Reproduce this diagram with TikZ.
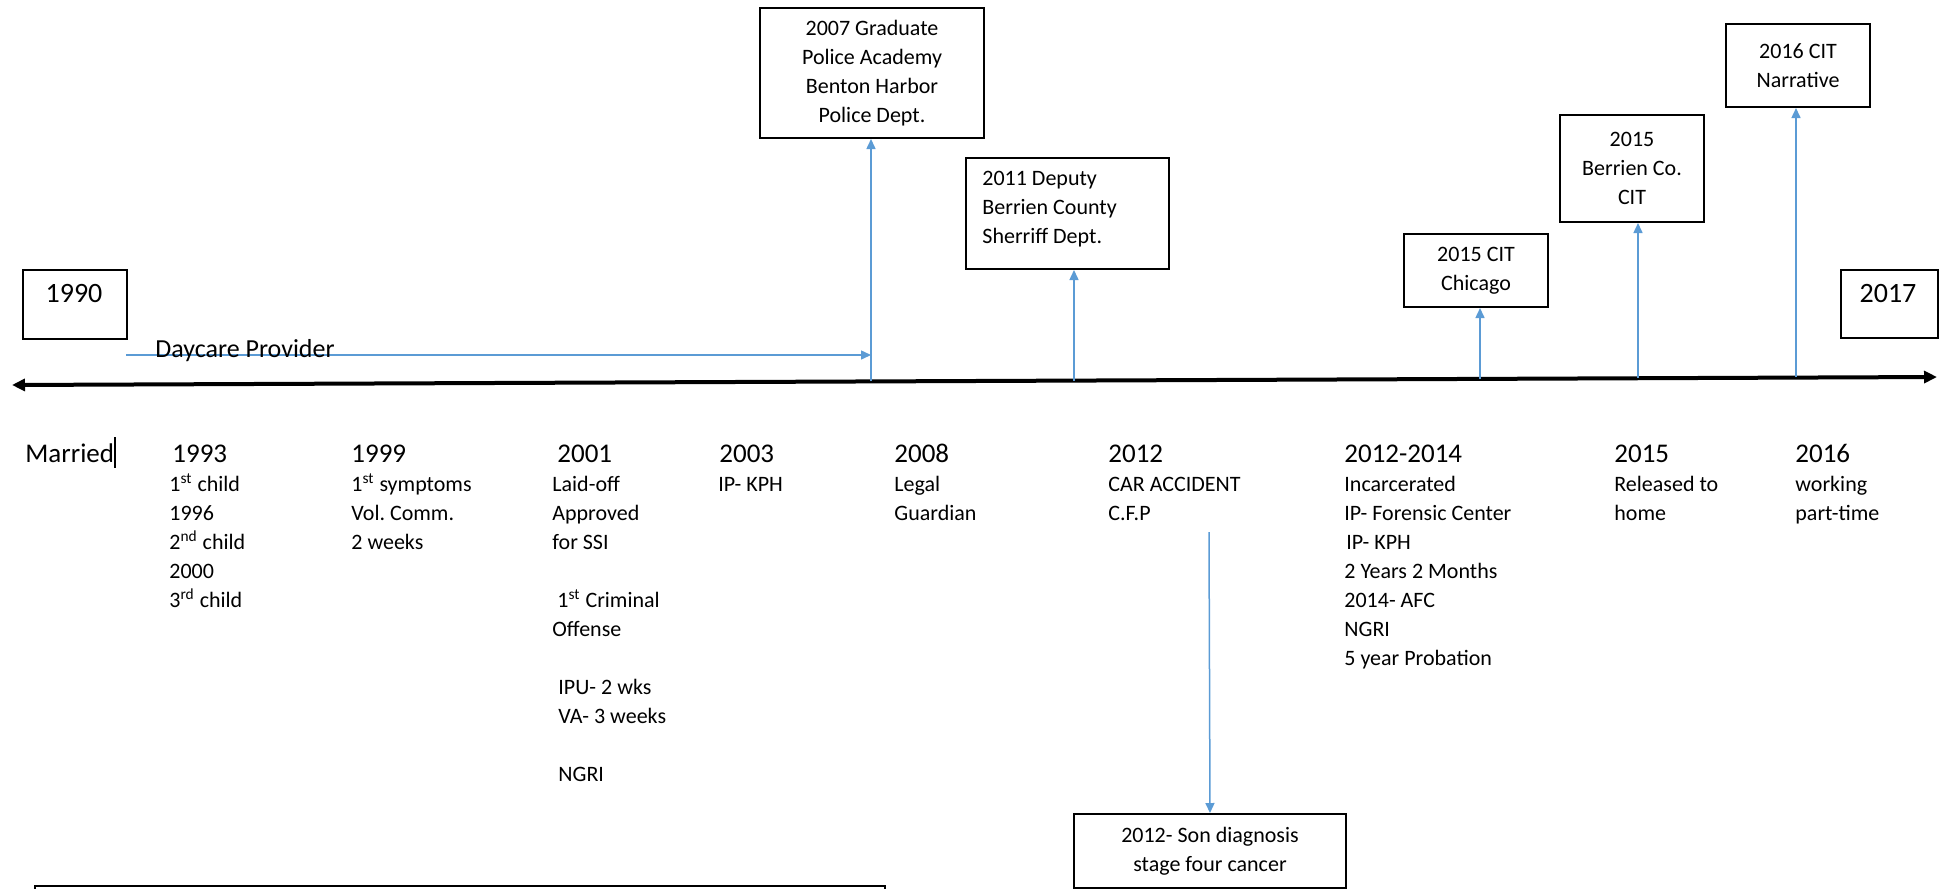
\documentclass[tikz,border=0pt]{standalone}
\usepackage{fontspec}
\setmainfont{Carlito}
\usepackage{xcolor}
\usepackage{tikz}
\usetikzlibrary{arrows.meta}

\definecolor{linkblue}{RGB}{91,155,213}
\frenchspacing

\begin{document}
\begin{tikzpicture}[x=0.5pt, y=-0.5pt,
        eventbox/.style={draw, line width=1pt, anchor=north west, inner sep=0pt, align=center, font=\fontsize{11}{14.5}\selectfont},
        boxyear/.style={anchor=base, inner sep=0pt, font=\fontsize{14}{17}\selectfont},
        yearlabel/.style={anchor=base west, inner sep=0pt, font=\fontsize{13.5}{16}\selectfont},
        detail/.style={anchor=base west, inner sep=0pt, align=left, font=\fontsize{11}{14.5}\selectfont},
        timeline/.style={line width=2pt, {Triangle[length=6.5pt,width=6pt]}-{Triangle[length=6.5pt,width=6pt]}},
        link/.style={draw=linkblue, line width=0.75pt, -{Triangle[length=5pt,width=4.5pt]}}]
        \useasboundingbox (0,0) rectangle (1939,889);

        \coordinate (axL) at (12,385);
        \coordinate (axR) at (1937,377);
        \draw[timeline] (axL) -- (axR);

        \node[eventbox, minimum width=52pt, minimum height=34.5pt] (b1990) at (22,269) {};
        \node[boxyear] (t1990) at (74,302) {1990};
        \node[eventbox, minimum width=48.5pt, minimum height=34pt] (b2017) at (1840,269) {};
        \node[boxyear] (t2017) at (1888,302) {2017};

        \node[eventbox, minimum width=112pt, minimum height=65pt] (b2007) at (759,7) {2007 Graduate\\Police Academy\\Benton Harbor\\Police Dept.};
        \node[eventbox, minimum width=101.5pt, minimum height=55.5pt] (b2011) at (965,157) {};
        \node[detail] (t2011) at (982,243) {2011 Deputy\\Berrien County\\Sherriff Dept.};
        \node[eventbox, minimum width=72pt, minimum height=36.5pt] (bchicago) at (1403,233) {2015 CIT\\Chicago};
        \node[eventbox, minimum width=72pt, minimum height=53.5pt] (bberrien) at (1559,114) {2015\\Berrien Co.\\CIT};
        \node[eventbox, minimum width=72pt, minimum height=41.5pt] (b2016) at (1725,23) {2016 CIT\\Narrative};
        \node[eventbox, minimum width=136pt, minimum height=37pt] (bson) at (1073,813) {2012- Son diagnosis\\stage four cancer};
        \node[eventbox, minimum width=425pt, minimum height=12pt] (bnote) at (34,885) {};

        \coordinate (a2007) at (871,381);
        \coordinate (a2011) at (1074,381);
        \coordinate (achicago) at (1480,379);
        \coordinate (aberrien) at (1638,378);
        \coordinate (a2016) at (1796,377);
        \coordinate (dayStart) at (126,355);
        \coordinate (sonStart) at (1209,532);

        \draw[link] (dayStart) -- (dayStart -| a2007);
        \draw[link] (a2007) -- (a2007 |- b2007.south);
        \draw[link] (a2011) -- (a2011 |- b2011.south);
        \draw[link] (achicago) -- (achicago |- bchicago.south);
        \draw[link] (aberrien) -- (aberrien |- bberrien.south);
        \draw[link] (a2016) -- (a2016 |- b2016.south);
        \draw[link] (sonStart) -- (bson.north);

        \node[anchor=base west, inner sep=0pt, font=\fontsize{13}{16}\selectfont] (daycare) at (155,357) {Daycare Provider};

        \node[yearlabel] (married) at (25,462) {Married};
        \draw[line width=0.6pt] (115,437) -- (115,468);
        \node[yearlabel] (y1993) at (172,462) {1993};
        \node[yearlabel] (y1999) at (351,462) {1999};
        \node[yearlabel] (y2001) at (557,462) {2001};
        \node[yearlabel] (y2003) at (719,462) {2003};
        \node[yearlabel] (y2008) at (894,462) {2008};
        \node[yearlabel] (y2012) at (1108,462) {2012};
        \node[yearlabel] (y2014) at (1344,462) {2012-2014};
        \node[yearlabel] (y2015) at (1614,462) {2015};
        \node[yearlabel] (y2016) at (1795,462) {2016};

        \node[detail] (d1993) at (169,607) {1\textsuperscript{st} child\\1996\\2\textsuperscript{nd} child\\2000\\3\textsuperscript{rd} child};
        \node[detail] (d1999) at (351,549) {1\textsuperscript{st} symptoms\\Vol. Comm.\\2 weeks};
        \node[detail] (d2001) at (552,781) {Laid-off\\Approved\\for SSI\\{}\\\hspace{2.5pt}1\textsuperscript{st} Criminal\\Offense\\{}\\\hspace{3pt}IPU- 2 wks\\\hspace{3pt}VA- 3 weeks\\{}\\\hspace{3pt}NGRI};
        \node[detail] (d2003) at (718,491) {IP- KPH};
        \node[detail] (d2008) at (894,520) {Legal\\Guardian};
        \node[detail] (d2012) at (1108,520) {CAR ACCIDENT\\C.F.P};
        \node[detail] (d2014) at (1344,665) {Incarcerated\\IP- Forensic Center\\\hspace{1pt}IP- KPH\\2 Years 2 Months\\2014- AFC\\NGRI\\5 year Probation};
        \node[detail] (d2015) at (1614,520) {Released to\\home};
        \node[detail] (d2016) at (1795,520) {working\\part-time};
    \end{tikzpicture}
\end{document}
